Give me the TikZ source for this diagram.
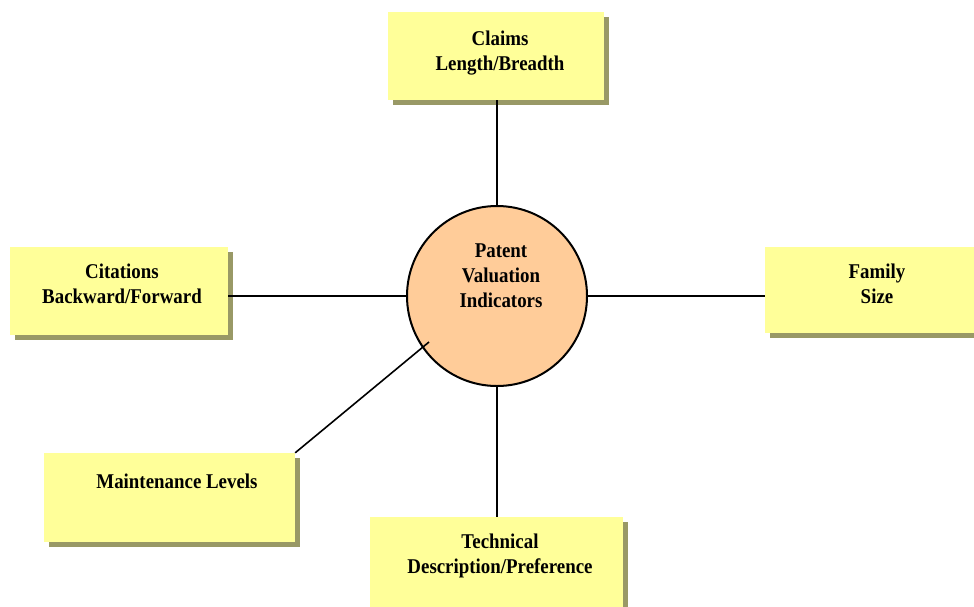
\documentclass[tikz,border=0pt]{standalone}
\usepackage{fontspec}
\setmainfont{Liberation Serif}[FakeStretch=0.9]
\usetikzlibrary{shadows}
\definecolor{boxfill}{RGB}{255,255,153}
\definecolor{shadowc}{RGB}{153,153,102}
\definecolor{circfill}{RGB}{255,204,153}
\begin{document}
\begin{tikzpicture}[x=1pt,y=-1pt,
  box/.style={rectangle, fill=boxfill, draw=none, inner sep=0,
    drop shadow={shadow xshift=5pt, shadow yshift=-5pt, opacity=1, fill=shadowc}},
  hub/.style={circle, fill=circfill, draw=black, line width=2pt, inner sep=0, minimum size=180pt},
  lbl/.style={font=\fontsize{21}{25}\selectfont\bfseries, align=center, inner sep=0, anchor=base},
  link/.style={draw=black, line width=1.6pt}]
\useasboundingbox (0,0) rectangle (974,606);
% boxes
\node[box, minimum width=216pt, minimum height=88pt] (claims) at (496,56) {};
\node[box, minimum width=218pt, minimum height=88pt] (cit) at (119,291) {};
\node[box, minimum width=210pt, minimum height=86pt] (fam) at (870,290) {};
\node[box, minimum width=251pt, minimum height=89pt] (maint) at (169.5,497.5) {};
\node[box, minimum width=253pt, minimum height=100pt] (tech) at (496.5,567) {};
% hub
\node[hub] (hub) at (497,296) {};
\coordinate (dm) at (429,342);
% connectors
\draw[link] (hub.north) -- (hub.north |- claims.south);
\draw[link] (hub.west -| cit.east) -- (hub.west);
\draw[link] (hub.east) -- (hub.east -| fam.west);
\draw[link] (hub.south) -- (hub.south |- tech.north);
\draw[link] (dm) -- (maint.north east);
% labels
\node[lbl] (claimsT) at (500,70) {Claims\\Length/Breadth};
\node[lbl] (citT) at (122,303) {Citations\\Backward/Forward};
\node[lbl] (famT) at (877,303) {Family\\Size};
\node[lbl] (maintT) at (177,488) {Maintenance Levels};
\node[lbl] (techT) at (500,573) {Technical\\Description/Preference};
\node[lbl] (hubT) at (501,307) {Patent\\Valuation\\Indicators};
\end{tikzpicture}
\end{document}
